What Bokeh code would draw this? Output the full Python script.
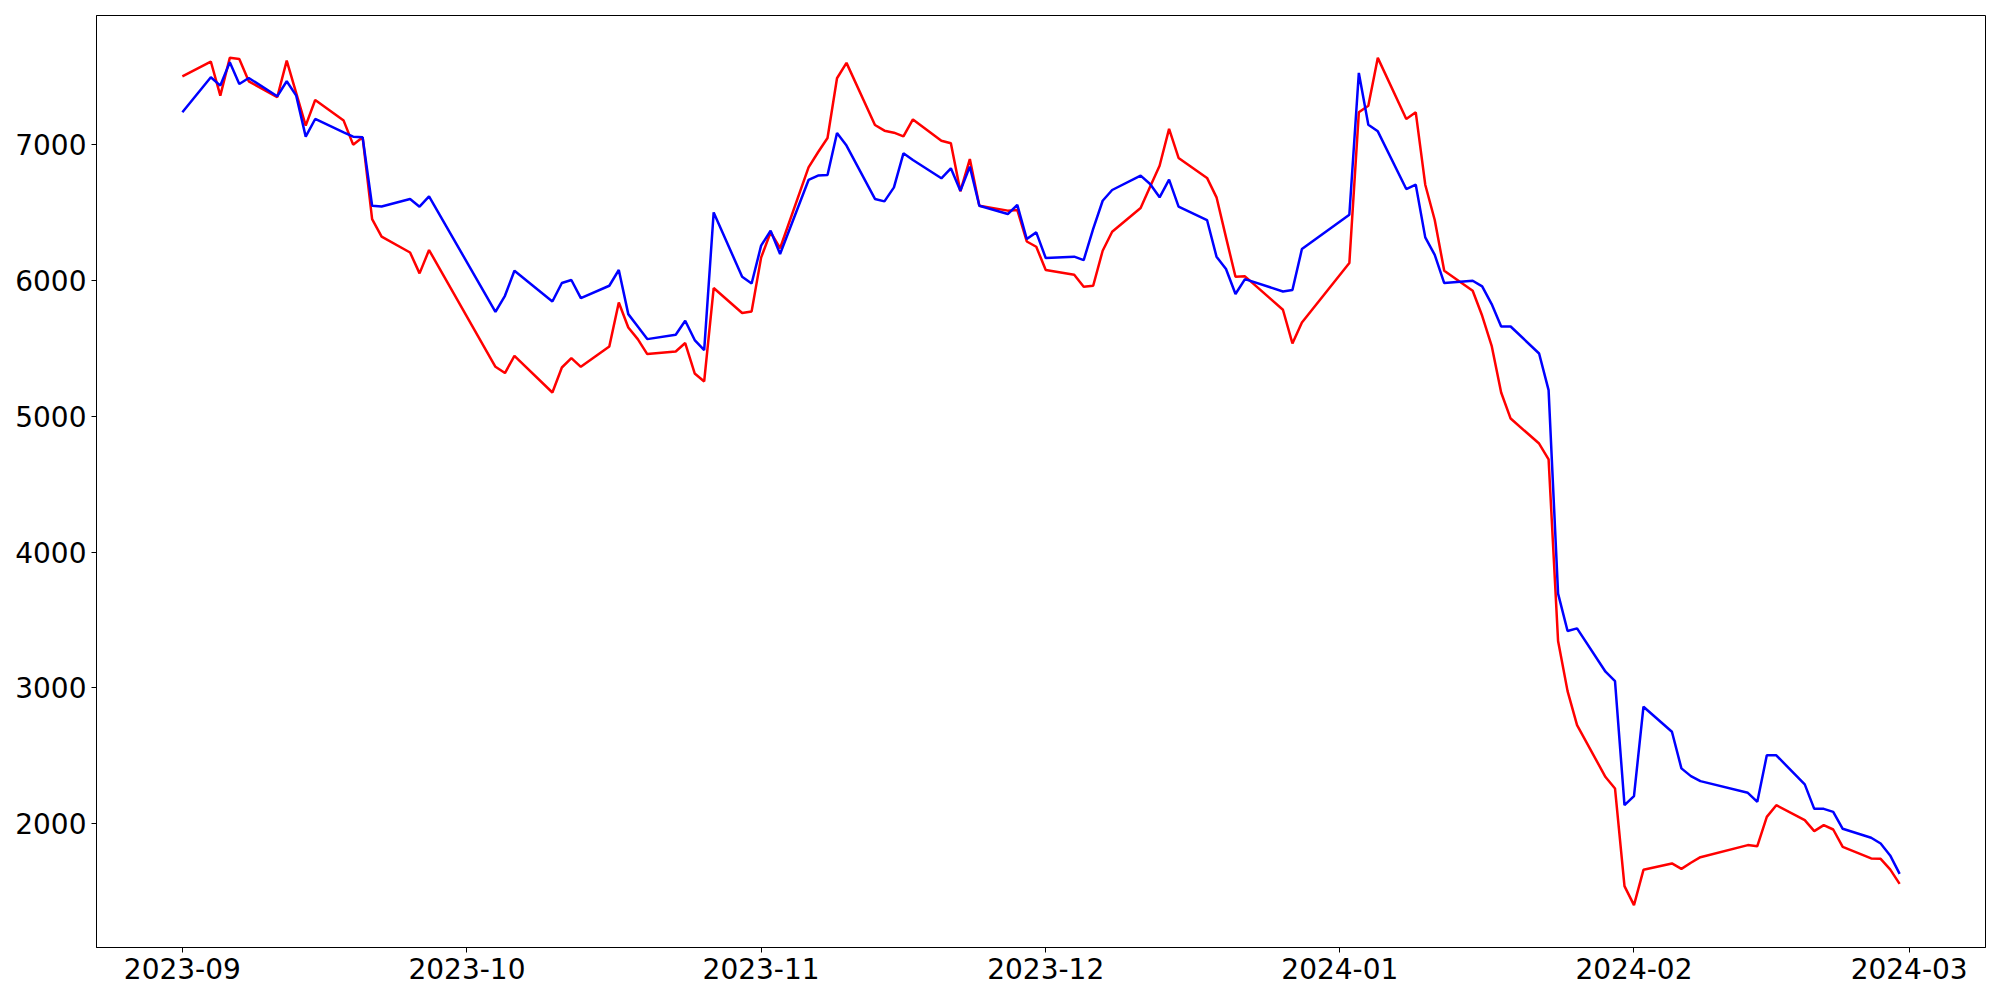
import pandas as pd
from bokeh.plotting import figure
from bokeh.models import FixedTicker, DatetimeTickFormatter, Range1d, ColumnDataSource
from bokeh.embed import file_html
from bokeh.resources import INLINE

dates = [
    "2023-09-01", "2023-09-04", "2023-09-05", "2023-09-06", "2023-09-07", "2023-09-08",
    "2023-09-11", "2023-09-12", "2023-09-13", "2023-09-14", "2023-09-15",
    "2023-09-18", "2023-09-19", "2023-09-20", "2023-09-21", "2023-09-22",
    "2023-09-25", "2023-09-26", "2023-09-27",
    "2023-10-04", "2023-10-05", "2023-10-06",
    "2023-10-10", "2023-10-11", "2023-10-12", "2023-10-13",
    "2023-10-16", "2023-10-17", "2023-10-18", "2023-10-19", "2023-10-20",
    "2023-10-23", "2023-10-24", "2023-10-25", "2023-10-26", "2023-10-27",
    "2023-10-30", "2023-10-31",
    "2023-11-01", "2023-11-02", "2023-11-03",
    "2023-11-06", "2023-11-07", "2023-11-08", "2023-11-09", "2023-11-10",
    "2023-11-13", "2023-11-14", "2023-11-15", "2023-11-16", "2023-11-17",
    "2023-11-20", "2023-11-21", "2023-11-22", "2023-11-23", "2023-11-24",
    "2023-11-27", "2023-11-28", "2023-11-29", "2023-11-30",
    "2023-12-01",
    "2023-12-04", "2023-12-05", "2023-12-06", "2023-12-07", "2023-12-08",
    "2023-12-11", "2023-12-12", "2023-12-13", "2023-12-14", "2023-12-15",
    "2023-12-18", "2023-12-19", "2023-12-20", "2023-12-21", "2023-12-22",
    "2023-12-26", "2023-12-27", "2023-12-28",
    "2024-01-02", "2024-01-03", "2024-01-04", "2024-01-05",
    "2024-01-08", "2024-01-09", "2024-01-10", "2024-01-11", "2024-01-12",
    "2024-01-15", "2024-01-16", "2024-01-17", "2024-01-18", "2024-01-19",
    "2024-01-22", "2024-01-23", "2024-01-24", "2024-01-25", "2024-01-26",
    "2024-01-29", "2024-01-30", "2024-01-31",
    "2024-02-01", "2024-02-02",
    "2024-02-05", "2024-02-06", "2024-02-07", "2024-02-08",
    "2024-02-13", "2024-02-14", "2024-02-15", "2024-02-16",
    "2024-02-19", "2024-02-20", "2024-02-21", "2024-02-22", "2024-02-23",
    "2024-02-26", "2024-02-27", "2024-02-28", "2024-02-29",
]

red_values = [
    # Sep
    7503, 7612, 7361, 7639, 7631, 7466, 7349, 7619, 7380, 7140, 7329,
    7177, 7000, 7054, 6452, 6322, 6206, 6052, 6224,
    # Oct
    5364, 5318, 5445, 5175, 5359, 5428, 5364, 5514, 5838, 5654, 5568, 5458,
    5477, 5539, 5315, 5256, 5944, 5760, 5772,
    # Nov
    6168, 6355, 6237, 6833, 6944, 7049, 7489, 7602, 7145, 7103, 7088, 7061, 7186,
    7029, 7010, 6656, 6894, 6550, 6514, 6519, 6287, 6248,
    # Dec
    6077, 6042, 5954, 5961, 6219, 6359, 6533, 6690, 6845, 7116, 6902,
    6755, 6612, 6317, 6027, 6030, 5784, 5536, 5691,
    # Jan
    6128, 7238, 7287, 7639, 7189, 7238, 6705, 6445, 6071, 5924, 5740, 5519, 5175, 4983,
    4799, 4683, 3345, 2976, 2726, 2343, 2259, 1540,
    # Feb
    1400, 1660, 1707, 1667, 1712, 1753, 1842, 1834, 2050, 2136,
    2026, 1945, 1989, 1957, 1829, 1744, 1741, 1663, 1557,
]

blue_values = [
    # Sep
    7238, 7496, 7435, 7607, 7447, 7491, 7356, 7467, 7361, 7059, 7189,
    7091, 7059, 7054, 6550, 6545, 6600, 6543, 6619,
    # Oct
    5769, 5887, 6071, 5845, 5981, 6003, 5870, 5961, 6077, 5752, 5660, 5568,
    5600, 5703, 5561, 5487, 6501, 6027, 5978,
    # Nov
    6256, 6366, 6195, 6740, 6772, 6776, 7086, 6993, 6600, 6582, 6685, 6936, 6887,
    6752, 6826, 6661, 6838, 6550, 6489, 6556, 6305, 6354,
    # Dec
    6165, 6175, 6150, 6379, 6587, 6666, 6772, 6710, 6612, 6742, 6543,
    6445, 6175, 6084, 5900, 6010, 5919, 5929, 6231,
    # Jan
    6484, 7528, 7147, 7098, 6673, 6705, 6317, 6189, 5981, 5998, 5956, 5826, 5661, 5661,
    5462, 5192, 3694, 3419, 3438, 3119, 3050, 2136,
    # Feb
    2203, 2861, 2677, 2407, 2350, 2313, 2227, 2161, 2503, 2503,
    2289, 2109, 2109, 2087, 1962, 1896, 1854, 1766, 1630,
]

x_tick_labels = ["2023-09", "2023-10", "2023-11", "2023-12", "2024-01", "2024-02", "2024-03"]
y_ticks = [2000, 3000, 4000, 5000, 6000, 7000]

dt = pd.to_datetime(dates)
src = ColumnDataSource(dict(date=dt, red=red_values, blue=blue_values))

x_pad = (dt.max() - dt.min()) * 0.05
x_start = (dt.min() - x_pad).to_pydatetime()
x_end = (dt.max() + x_pad).to_pydatetime()
all_vals = red_values + blue_values
y_pad = (max(all_vals) - min(all_vals)) * 0.05

p = figure(
    x_axis_type="datetime",
    output_backend="svg",
    toolbar_location=None,
    frame_width=1889,
    frame_height=932,
    min_border_left=96,
    min_border_top=15,
    min_border_right=7,
    min_border_bottom=45,
    x_range=Range1d(x_start, x_end),
    y_range=Range1d(min(all_vals) - y_pad, max(all_vals) + y_pad),
    background_fill_color="white",
    border_fill_color="white",
)

p.line("date", "red", source=src, line_color="#ff0000", line_width=2.5)
p.line("date", "blue", source=src, line_color="#0000ff", line_width=2.5)

p.grid.visible = False
p.outline_line_color = "black"
p.outline_line_width = 1
p.outline_line_alpha = 1

month_ticks = [pd.Timestamp(t + "-01").value / 1e6 for t in x_tick_labels]
p.xaxis.ticker = FixedTicker(ticks=month_ticks)
fmt = "%Y-%m"
p.xaxis.formatter = DatetimeTickFormatter(
    microseconds=fmt, milliseconds=fmt, seconds=fmt, minsec=fmt, minutes=fmt,
    hourmin=fmt, hours=fmt, days=fmt, months=fmt, years=fmt,
)
p.yaxis.ticker = FixedTicker(ticks=y_ticks)

for ax in (p.xaxis, p.yaxis):
    ax.axis_line_color = "black"
    ax.axis_line_width = 1
    ax.major_tick_line_color = "black"
    ax.major_tick_line_width = 1
    ax.major_tick_in = 0
    ax.major_tick_out = 5
    ax.minor_tick_in = 0
    ax.minor_tick_out = 0
    ax.major_label_text_font = "DejaVu Sans"
    ax.major_label_text_font_size = "28px"
    ax.major_label_text_color = "black"
    ax.major_label_standoff = 5

open("out.html", "w").write(file_html(p, INLINE))
